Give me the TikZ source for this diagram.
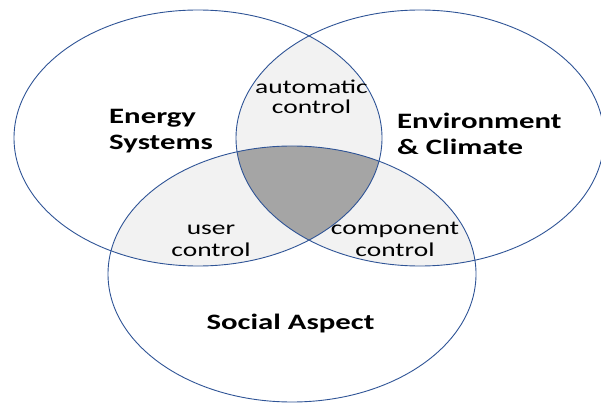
\documentclass[tikz,border=0pt]{standalone}
\usepackage{fontspec}
\setmainfont{Carlito}[FakeStretch=1.4]
\usepackage{tikz}
\definecolor{rim}{RGB}{47,84,150}
\definecolor{lens}{RGB}{242,242,242}
\definecolor{core}{RGB}{165,165,165}
\def\vset{ellipse [x radius=184, y radius=128]}
\def\drim{\draw[rim,line width=0.9pt]}

\begin{document}
\begin{tikzpicture}[x=1pt,y=-1pt,
    ttl/.style={font=\bfseries\fontsize{22}{25.5}\selectfont,align=left,inner sep=0},
    lbl/.style={font=\fontsize{19.6}{22}\selectfont,align=center,inner sep=0}]
                \useasboundingbox (0,0) rectangle (601,403);
                \coordinate (energy) at (198,138);
                \coordinate (climate) at (420,138);
                \coordinate (social) at (292,274);
                \begin{scope} \clip (energy) \vset; \fill[lens] (climate) \vset; \fill[lens] (social) \vset; \end{scope}
                \begin{scope} \clip (climate) \vset; \fill[lens] (social) \vset; \end{scope}
                \begin{scope} \clip (energy) \vset; \clip (climate) \vset; \fill[core] (social) \vset; \end{scope}
                \drim (energy) \vset;
                \drim (climate) \vset;
                \drim (social) \vset;
                % base anchor sits on the last line
                \node[ttl,anchor=base west] (energylbl) at (109,149.5) {Energy\\Systems};
                \node[ttl,anchor=base west] (climatelbl) at (397,154.5) {Environment\\\& Climate};
                \node[ttl,anchor=base] (sociallbl) at (290.5,329) {Social Aspect};
                \node[lbl,anchor=base,font=\fontsize{19.6}{19.5}\selectfont] (autolbl) at (311.5,113.5) {automatic\\control};
                \node[lbl,anchor=base] (userlbl) at (211,256) {user\\control};
                \node[lbl,anchor=base] (complbl) at (395,256) {component\\control};
            \end{tikzpicture}
\end{document}
